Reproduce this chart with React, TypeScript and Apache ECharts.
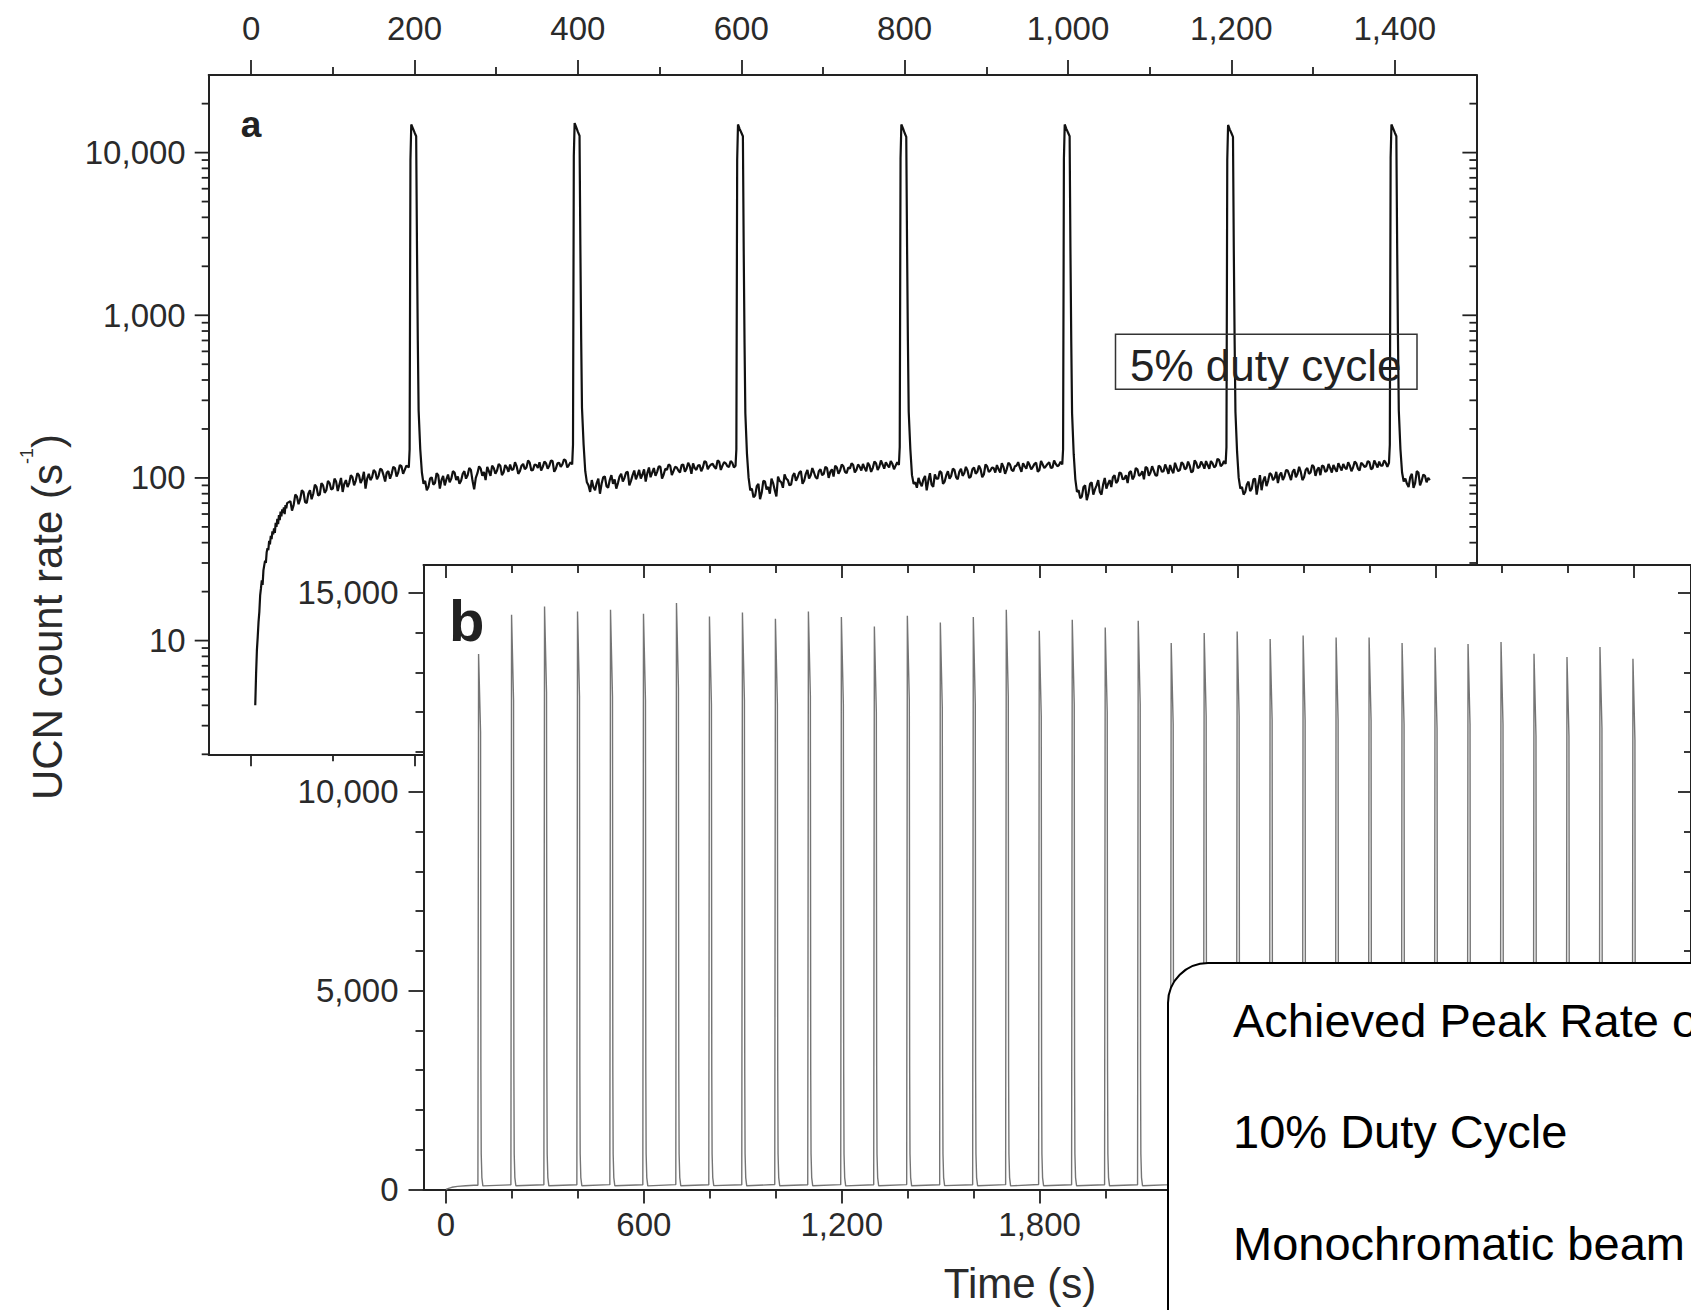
import React, { useEffect, useRef } from 'react';
import * as echarts from 'echarts';

// ---------------- Panel a (log scale, 5% duty cycle) ----------------
const riseA: [number, number][] = [
  [5, 4], [6, 6.2], [7, 8.7], [8, 10.5], [9, 13], [10, 15], [11, 19], [12, 21], [13, 23.5], [14, 22],
  [15, 27], [16, 29], [17, 31], [18, 30], [19, 35], [20, 37], [21, 36], [22, 41], [23, 39], [24, 44],
  [25, 42], [26, 47], [27, 45], [28, 49], [29, 46], [30, 53], [31, 50], [32, 56], [33, 52], [34, 59],
  [35, 55], [36, 62], [37, 58], [38, 64], [39, 61], [40, 66], [41, 60], [42, 68], [43, 65], [44, 70],
];
const STEP_A = 4;
const HALF_A = 2;
const cycleStartA = [48, 213, 413, 613, 813, 1013, 1213, 1413];
// samples at start + 4j
const cycleA0 = [72, 68, 77, 74, 82, 70, 84, 80, 88, 79, 90, 84, 93, 86, 95, 91, 82, 97, 93, 101, 96, 104, 98, 86, 106, 101, 109, 103, 112, 95, 110, 106, 115, 108, 118, 112];
const cycleA1 = [96, 88, 101, 93, 104, 97, 90, 105, 99, 108, 102, 96, 110, 104, 112, 85, 107, 114, 109, 117, 103, 115, 111, 119, 108, 116, 121, 113, 118, 110, 122, 116, 124, 112, 120, 125, 117, 123, 119, 127, 114, 124, 121, 128, 120];
const cycleA2 = [90, 97, 84, 99, 92, 102, 87, 104, 98, 93, 106, 100, 109, 96, 111, 104, 99, 113, 107, 101, 115, 109, 117, 105, 112, 119, 110, 116, 108, 121, 114, 118, 123, 112, 120, 116, 125, 118, 122, 114, 126, 119, 123, 117, 124];
const cycleA3 = [86, 78, 92, 81, 95, 88, 99, 84, 102, 94, 105, 97, 91, 107, 101, 110, 96, 112, 104, 108, 99, 113, 106, 115, 109, 102, 116, 111, 118, 107, 114, 120, 112, 117, 122, 110, 119, 115, 123, 117, 121, 125, 116, 122, 119];
const cycleA4 = [94, 100, 89, 103, 96, 91, 105, 99, 108, 95, 110, 103, 112, 98, 114, 107, 111, 102, 116, 109, 113, 105, 118, 111, 115, 120, 108, 117, 113, 121, 110, 119, 116, 123, 114, 120, 117, 124, 112, 121, 118, 125, 116, 122, 120];
const cycleA5 = [84, 77, 90, 80, 94, 85, 97, 79, 100, 92, 88, 104, 96, 107, 99, 93, 110, 102, 113, 105, 98, 115, 108, 111, 103, 117, 110, 114, 120, 107, 116, 112, 122, 115, 119, 110, 124, 117, 121, 127, 114, 123, 119, 129, 121];
const cycleA6 = [88, 82, 95, 86, 99, 91, 84, 102, 96, 105, 100, 93, 108, 102, 111, 97, 113, 106, 109, 101, 115, 108, 117, 112, 104, 118, 111, 115, 120, 109, 117, 122, 113, 119, 116, 123, 111, 121, 118, 125, 115, 122, 126, 119, 124];
const cycleA7 = [99, 88, 106, 93, 108, 96, 103, 100];
// samples at start + 4j + 2
const midA0 = [63, 79, 69, 84, 71, 80, 74, 91, 78, 93, 81, 96, 85, 99, 83, 100, 92, 88, 104, 90, 107, 93, 109, 99, 97, 112, 98, 114, 104, 108, 99, 117, 102, 120, 106, 119];
const midA1 = [84, 99, 91, 107, 86, 103, 98, 94, 110, 97, 92, 106, 99, 115, 96, 100, 118, 103, 97, 110, 119, 106, 122, 104, 120, 109, 112, 125, 106, 119, 113, 128, 111, 121, 115, 111, 126, 114, 128, 109, 123, 117, 130, 116, 125];
const midA2 = [82, 88, 93, 80, 101, 89, 97, 92, 86, 102, 95, 108, 90, 104, 98, 112, 105, 95, 116, 108, 103, 118, 99, 114, 121, 104, 117, 111, 120, 109, 124, 106, 115, 119, 110, 127, 113, 121, 117, 128, 112, 125, 118, 127, 116];
const midA3 = [76, 89, 74, 96, 85, 80, 93, 77, 96, 87, 99, 90, 103, 96, 108, 92, 106, 99, 115, 101, 110, 104, 117, 100, 113, 119, 106, 121, 109, 116, 123, 108, 121, 111, 115, 124, 109, 126, 112, 128, 114, 120, 127, 113, 125];
const midA4 = [87, 93, 98, 84, 107, 88, 99, 110, 92, 104, 99, 114, 101, 109, 103, 117, 100, 113, 106, 119, 101, 121, 109, 116, 108, 113, 123, 106, 124, 112, 118, 125, 109, 118, 126, 113, 122, 109, 127, 115, 122, 115, 128, 118, 126];
const midA5 = [75, 88, 73, 92, 79, 90, 82, 91, 86, 97, 101, 93, 108, 98, 104, 108, 98, 115, 103, 110, 117, 103, 118, 104, 119, 109, 121, 106, 112, 124, 110, 125, 113, 126, 108, 128, 115, 126, 114, 120, 127, 116, 131, 118, 127];
const midA6 = [79, 91, 83, 98, 79, 104, 96, 89, 107, 97, 109, 104, 97, 112, 104, 109, 101, 117, 97, 112, 106, 120, 103, 116, 119, 109, 122, 108, 114, 123, 111, 116, 125, 110, 126, 114, 124, 117, 127, 113, 128, 116, 119, 128, 117];
const midA7 = [92, 101, 87, 110, 90, 105, 94, 97];
const cyclesA = [cycleA0, cycleA1, cycleA2, cycleA3, cycleA4, cycleA5, cycleA6, cycleA7];
const midsA = [midA0, midA1, midA2, midA3, midA4, midA5, midA6, midA7];

const peakStartA = [193, 393, 593, 793, 993, 1193, 1393];
const peakOffsetsA = [0, 1, 2, 3, 5, 7, 9, 10, 11, 12, 14, 16, 18];
const peakA1 = [116, 150, 9000, 14900, 14100, 13300, 12600, 2600, 700, 260, 150, 108, 92];
const peakA2 = [121, 160, 9500, 15200, 14300, 13400, 12700, 2700, 720, 270, 160, 110, 94];
const peakA3 = [119, 150, 9000, 14900, 14000, 13300, 12600, 2500, 680, 250, 140, 100, 84];
const peakA4 = [120, 155, 9200, 14900, 14100, 13200, 12500, 2600, 700, 255, 150, 104, 92];
const peakA5 = [121, 150, 9100, 14900, 14000, 13300, 12600, 2500, 690, 250, 140, 98, 82];
const peakA6 = [122, 155, 9000, 14800, 13900, 13200, 12500, 2500, 700, 255, 145, 100, 86];
const peakA7 = [124, 160, 9300, 14900, 14100, 13300, 12600, 2600, 710, 260, 150, 108, 95];
const peaksA = [peakA1, peakA2, peakA3, peakA4, peakA5, peakA6, peakA7];

const ticksAMajor = [0, 200, 400, 600, 800, 1000, 1200, 1400];
const ticksAMinor = [100, 300, 500, 700, 900, 1100, 1300];
const logMajorA = [10, 100, 1000, 10000];
const logMinorA = [2, 3, 4, 5, 6, 7, 8, 9, 20, 30, 40, 50, 60, 70, 80, 90, 200, 300, 400, 500, 600, 700, 800, 900,
  2000, 3000, 4000, 5000, 6000, 7000, 8000, 9000, 20000];

// ---------------- Panel b (linear scale, 10% duty cycle) ----------------
const startB: [number, number][] = [[0, 4], [8, 30], [18, 55], [35, 78], [60, 95], [85, 105]];
const peakTimesB = [99, 199, 299, 399, 499, 599, 699, 799, 899, 999, 1099, 1199, 1299, 1399, 1499, 1599, 1699, 1799,
  1899, 1999, 2099, 2199, 2299, 2399, 2499, 2599, 2699, 2799, 2899, 2999, 3099, 3199, 3299, 3399, 3499, 3599];
const apexB = [13461, 14449, 14658, 14532, 14575, 14474, 14743, 14406, 14507, 14348, 14532, 14391, 14155, 14424, 14256,
  14391, 14575, 14047, 14323, 14130, 14298, 13737, 13989, 14030, 13838, 13929, 13879, 13879, 13737, 13627, 13712, 13762,
  13468, 13385, 13636, 13343];
const shoulderB = [11500, 12300, 12500, 12400, 12400, 12300, 12600, 12200, 12300, 12200, 12400, 12200, 12000, 12300, 12100,
  12200, 12400, 11900, 12200, 12000, 12200, 11700, 11900, 11900, 11800, 11800, 11800, 11800, 11700, 11600, 11700, 11700,
  11400, 11400, 11600, 11300];
const preB = [108, 118, 121, 119, 122, 120, 123, 118, 121, 124, 119, 122, 120, 123, 121, 118, 122, 124, 120, 121, 119, 123,
  120, 122, 118, 121, 124, 119, 122, 120, 121, 123, 119, 122, 120, 121];
const postB = [92, 95, 93, 96, 94, 92, 95, 97, 93, 94, 96, 92, 95, 93, 97, 94, 92, 96, 95, 93, 94, 97, 92, 95, 96, 93, 94,
  92, 97, 95, 93, 96, 94, 92, 95, 94];
const dropOffsetsB = [7, 8, 10];
const dropB = [3000, 900, 300];

const ticksBXMajor = [0, 600, 1200, 1800, 2400, 3000, 3600];
const labelsBX = [0, 600, 1200, 1800];
const ticksBXMinor = [200, 400, 800, 1000, 1400, 1600, 2000, 2200, 2600, 2800, 3200, 3400];
const ticksBYMajor = [0, 5000, 10000, 15000];
const ticksBYMinor = [1000, 2000, 3000, 4000, 6000, 7000, 8000, 9000, 11000, 12000, 13000, 14000];

const FONT = "'Liberation Sans', Arial, Helvetica, sans-serif";
const AX = '#222';
const LBL = '#2a2a2a';

const fmt = (v: number) => Math.round(v).toLocaleString('en-US');

function buildDataA() {
  const out: [number, number][] = riseA.map((p) => [p[0], p[1]] as [number, number]);
  cyclesA.forEach((vals, i) => {
    vals.forEach((v, j) => {
      out.push([cycleStartA[i] + j * STEP_A, v]);
      out.push([cycleStartA[i] + j * STEP_A + HALF_A, midsA[i][j]]);
    });
    if (i < peaksA.length) {
      peaksA[i].forEach((v, j) => out.push([peakStartA[i] + peakOffsetsA[j], v]));
    }
  });
  return out;
}

function buildDataB() {
  const out: [number, number][] = startB.map((p) => [p[0], p[1]] as [number, number]);
  peakTimesB.forEach((a, k) => {
    out.push([a - 2, preB[k]], [a, apexB[k]], [a + 6, shoulderB[k]]);
    dropB.forEach((v, j) => out.push([a + dropOffsetsB[j], v]));
    out.push([a + 13, postB[k]]);
  });
  return out;
}

function axisDef(o: any) {
  return {
    type: 'value',
    gridIndex: o.grid,
    min: o.min,
    max: o.max,
    position: o.pos,
    z: o.z ?? 0,
    axisLine: { show: !!o.line, onZero: false, lineStyle: { color: AX, width: 2 } },
    axisTick: { show: true, customValues: o.ticks, length: o.len, inside: !!o.inside, lineStyle: { color: AX, width: 1.8 } },
    axisLabel: o.labels
      ? { show: true, customValues: o.labels, margin: o.margin, fontSize: 33, color: LBL, fontFamily: FONT, formatter: fmt }
      : { show: false },
    splitLine: { show: false },
  };
}

function buildOption() {
  const A_MIN = -52, A_MAX = 1500;
  const B_MIN = -68, B_MAX = 3775;
  const logTicks: number[][] = [
    ...logMajorA.map((v) => [0, v, 14]),
    ...logMinorA.map((v) => [0, v, 7]),
  ];
  const isPow10 = (v: number) => {
    const l = Math.log10(v);
    return Math.abs(l - Math.round(l)) < 1e-6 && v >= 10;
  };
  const center = { align: 'center', verticalAlign: 'middle', textAlign: 'center', textVerticalAlign: 'middle' };
  const leftMid = { align: 'left', verticalAlign: 'middle', textAlign: 'left', textVerticalAlign: 'middle' };
  return {
    animation: false,
    backgroundColor: '#fff',
    grid: [
      { left: 208.7, top: 75, width: 1267.7, height: 679.3, show: false },
      { left: 423.5, top: 565, width: 1268.5, height: 624.5, show: true, backgroundColor: '#fff', borderWidth: 0, z: 5 },
    ],
    xAxis: [
      axisDef({ grid: 0, min: A_MIN, max: A_MAX, pos: 'bottom', line: true, ticks: ticksAMajor, len: 12 }),
      axisDef({ grid: 0, min: A_MIN, max: A_MAX, pos: 'top', line: true, ticks: ticksAMajor, len: 15, labels: ticksAMajor, margin: 30 }),
      axisDef({ grid: 0, min: A_MIN, max: A_MAX, pos: 'bottom', ticks: ticksAMinor, len: 7 }),
      axisDef({ grid: 0, min: A_MIN, max: A_MAX, pos: 'top', ticks: ticksAMinor, len: 8 }),
      axisDef({ grid: 1, min: B_MIN, max: B_MAX, pos: 'bottom', line: true, ticks: ticksBXMajor, len: 14, labels: labelsBX, margin: 18, z: 6 }),
      axisDef({ grid: 1, min: B_MIN, max: B_MAX, pos: 'top', line: true, ticks: ticksBXMajor, len: 13, inside: true, z: 6 }),
      axisDef({ grid: 1, min: B_MIN, max: B_MAX, pos: 'bottom', ticks: ticksBXMinor, len: 9, z: 6 }),
      axisDef({ grid: 1, min: B_MIN, max: B_MAX, pos: 'top', ticks: ticksBXMinor, len: 8, inside: true, z: 6 }),
    ],
    yAxis: [
      {
        type: 'log', logBase: 10, gridIndex: 0, min: 2, max: 30000, position: 'left',
        axisLine: { show: true, onZero: false, lineStyle: { color: AX, width: 2 } },
        axisTick: { show: false },
        axisLabel: {
          show: true, margin: 23, fontSize: 33, color: LBL, fontFamily: FONT,
          formatter: (v: number) => (isPow10(v) ? fmt(v) : ''),
        },
        splitLine: { show: false },
      },
      {
        type: 'log', logBase: 10, gridIndex: 0, min: 2, max: 30000, position: 'right',
        axisLine: { show: true, onZero: false, lineStyle: { color: AX, width: 2 } },
        axisTick: { show: false },
        axisLabel: { show: false },
        splitLine: { show: false },
      },
      axisDef({ grid: 1, min: 0, max: 15700, pos: 'left', line: true, ticks: ticksBYMajor, len: 15, labels: ticksBYMajor, margin: 25, z: 6 }),
      axisDef({ grid: 1, min: 0, max: 15700, pos: 'right', line: true, ticks: ticksBYMajor, len: 13, inside: true, z: 6 }),
      axisDef({ grid: 1, min: 0, max: 15700, pos: 'left', ticks: ticksBYMinor, len: 8, z: 6 }),
      axisDef({ grid: 1, min: 0, max: 15700, pos: 'right', ticks: ticksBYMinor, len: 7, inside: true, z: 6 }),
    ],
    series: [
      {
        type: 'line', xAxisIndex: 0, yAxisIndex: 0, data: buildDataA(), symbol: 'none', showSymbol: false,
        lineStyle: { color: '#111', width: 2.2 }, z: 2, silent: true,
      },
      {
        type: 'custom', xAxisIndex: 0, yAxisIndex: 0, data: logTicks, clip: false, z: 2, silent: true,
        encode: { x: 0, y: 1 },
        renderItem: (params: any, api: any) => {
          const cs = params.coordSys;
          const y = api.coord([0, api.value(1)])[1];
          const len = api.value(2);
          const st = { stroke: AX, lineWidth: 1.8 };
          return {
            type: 'group',
            children: [
              { type: 'line', shape: { x1: cs.x - len, y1: y, x2: cs.x, y2: y }, style: st },
              { type: 'line', shape: { x1: cs.x + cs.width - len, y1: y, x2: cs.x + cs.width, y2: y }, style: st },
            ],
          };
        },
      },
      {
        type: 'line', xAxisIndex: 4, yAxisIndex: 2, data: buildDataB(), symbol: 'none', showSymbol: false,
        lineStyle: { color: '#757575', width: 1.4 }, z: 7, silent: true,
      },
    ],
    graphic: {
      elements: [
        {
          type: 'text', x: 251, y: 124, z: 10,
          style: { text: 'a', fontSize: 37, fontWeight: 'bold', fontFamily: FONT, fill: '#222', ...center },
        },
        {
          type: 'text', x: 466.7, y: 620, z: 50,
          style: { text: 'b', fontSize: 58, fontWeight: 'bold', fontFamily: FONT, fill: '#222', ...center },
        },
        {
          type: 'rect', z: 10, shape: { x: 1115.5, y: 334.3, width: 301.5, height: 55 },
          style: { fill: 'none', stroke: '#333', lineWidth: 1.5 },
        },
        {
          type: 'text', x: 1130, y: 365, z: 10,
          style: { text: '5% duty cycle', fontSize: 44, fontFamily: FONT, fill: '#222', ...leftMid },
        },
        {
          type: 'text', x: 47, y: 617, z: 10, rotation: Math.PI / 2,
          style: {
            text: '{m|UCN count rate (s}{s|-1}{m|)}',
            ...center,
            rich: {
              m: { fontSize: 42, fontFamily: FONT, fill: '#2a2a2a', lineHeight: 58 },
              s: { fontSize: 18, fontFamily: FONT, fill: '#2a2a2a', lineHeight: 18, verticalAlign: 'top' },
            },
          },
        },
        {
          type: 'text', x: 1020, y: 1283, z: 50,
          style: { text: 'Time (s)', fontSize: 42, fontFamily: FONT, fill: '#2a2a2a', ...center },
        },
        {
          type: 'rect', z: 100, shape: { x: 1168, y: 963, width: 600, height: 400, r: [40, 0, 0, 0] },
          style: { fill: '#fff', stroke: '#000', lineWidth: 2 },
        },
        {
          type: 'text', x: 1233, y: 1020, z: 101,
          style: { text: 'Achieved Peak Rate of', fontSize: 47, fontFamily: FONT, fill: '#000', ...leftMid },
        },
        {
          type: 'text', x: 1233, y: 1131, z: 101,
          style: { text: '10% Duty Cycle', fontSize: 47, fontFamily: FONT, fill: '#000', ...leftMid },
        },
        {
          type: 'text', x: 1233, y: 1243, z: 101,
          style: { text: 'Monochromatic beam', fontSize: 47, fontFamily: FONT, fill: '#000', ...leftMid },
        },
      ],
    },
  };
}

export default function App() {
  const ref = useRef<HTMLDivElement>(null);
  useEffect(() => {
    const el = ref.current;
    if (!el) return;
    const chart = echarts.init(el, null, { renderer: 'svg' });
    chart.setOption(buildOption() as any);
    return () => chart.dispose();
  }, []);
  return (
    <div
      ref={ref}
      style={{ position: 'fixed', left: 0, top: 0, width: 1691, height: 1310, background: '#fff' }}
    />
  );
}
